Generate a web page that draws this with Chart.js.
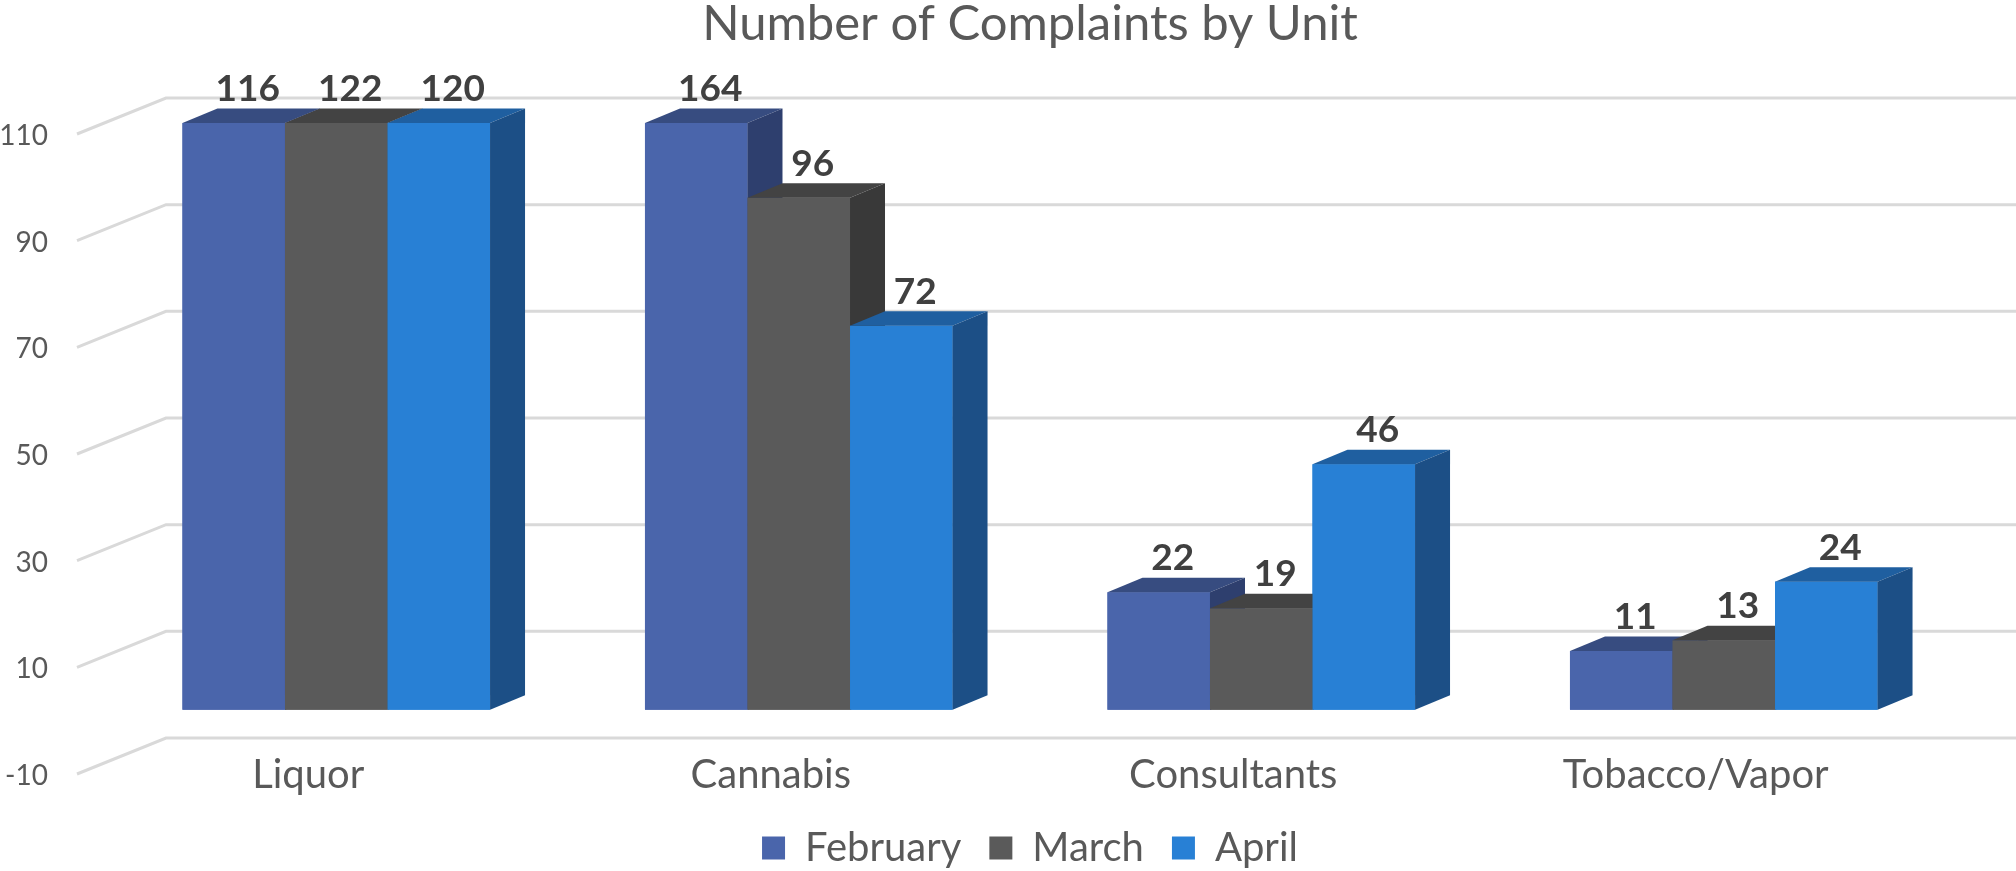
<!DOCTYPE html>
<html>
<head>
<meta charset="utf-8">
<title>Number of Complaints by Unit</title>
<script src="https://cdn.jsdelivr.net/npm/chart.js@4.4.1/dist/chart.umd.min.js"></script>
<style>
  html, body { margin: 0; padding: 0; background: #fff; }
  #wrap { width: 2016px; height: 871px; }
</style>
</head>
<body>
<div id="wrap"><canvas id="chart"></canvas></div>
<script>
/* ─── Data ─── */
const units    = ['Liquor', 'Cannabis', 'Consultants', 'Tobacco/Vapor'];
const february = [116, 164, 22, 11];
const march    = [122, 96, 19, 13];
const april    = [120, 72, 46, 24];
const yTicks   = [-10, 10, 30, 50, 70, 90, 110];

/* ─── 3D look ─── */
const SHADES = [
  { front: '#4A65AB', top: '#374C80', side: '#2E3F6E' },
  { front: '#5A5A5A', top: '#434343', side: '#393939' },
  { front: '#2880D5', top: '#1F5FA0', side: '#1C4F86' },
];
const DEPTH = { dx: 35, dy: 14.5 };   // bar depth
const WALL  = { dx: 61, dy: 25 };     // bar front -> back wall
const FLOOR = { dx: 89, dy: 36 };     // back wall -> front edge of floor
const TEXT  = '#595959';

Chart.defaults.font.family = "Lato, 'Open Sans', sans-serif";
Chart.defaults.color = TEXT;

function poly(ctx, pts) {
  ctx.beginPath();
  ctx.moveTo(pts[0][0], pts[0][1]);
  for (let k = 1; k < pts.length; k++) ctx.lineTo(pts[k][0], pts[k][1]);
  ctx.closePath();
  ctx.fill();
}

// gridlines on the back wall plus the slanted lines to the labels
const backWall = {
  id: 'backWall',
  beforeDatasetsDraw(chart) {
    const { ctx, chartArea, scales: { y } } = chart;
    const x0 = chartArea.left + WALL.dx;
    ctx.save();
    ctx.strokeStyle = '#D9D9D9';
    ctx.lineWidth = 3;
    yTicks.forEach(v => {
      const yb = y.getPixelForValue(v) - WALL.dy;
      ctx.beginPath();
      ctx.moveTo(x0 - FLOOR.dx, yb + FLOOR.dy);
      ctx.lineTo(x0, yb);
      ctx.lineTo(chart.width, yb);
      ctx.stroke();
    });
    ctx.restore();
  }
};

// repaint bars as blocks, left to right so later fronts hide earlier sides
const blocks = {
  id: 'blocks',
  afterDatasetsDraw(chart) {
    const { ctx, chartArea } = chart;
    const metas = chart.data.datasets.map((_, d) => chart.getDatasetMeta(d));
    ctx.save();
    units.forEach((_, i) => {
      metas.forEach((meta, d) => {
        const bar = meta.data[i];
        const c = SHADES[d];
        const l = bar.x - bar.width / 2, r = bar.x + bar.width / 2;
        const t = Math.max(bar.y, chartArea.top), b = bar.base;
        ctx.fillStyle = c.front;
        ctx.fillRect(l, t, r - l, b - t);
        ctx.fillStyle = c.top;
        poly(ctx, [[l, t], [r, t], [r + DEPTH.dx, t - DEPTH.dy], [l + DEPTH.dx, t - DEPTH.dy]]);
        ctx.fillStyle = c.side;
        poly(ctx, [[r, t], [r + DEPTH.dx, t - DEPTH.dy], [r + DEPTH.dx, b - DEPTH.dy], [r, b]]);
      });
    });

    // value labels
    ctx.font = "bold 37px Lato, 'Open Sans', sans-serif";
    ctx.fillStyle = '#404040';
    ctx.textAlign = 'center';
    ctx.textBaseline = 'middle';
    metas.forEach((meta, d) => {
      meta.data.forEach((bar, i) => {
        const t = Math.max(bar.y, chartArea.top);
        ctx.fillText(String(chart.data.datasets[d].data[i]), bar.x + 14, t - 34);
      });
    });
    ctx.restore();
  }
};

new Chart(document.getElementById('chart'), {
  type: 'bar',
  data: {
    labels: units,
    datasets: [
      { label: 'February', data: february, backgroundColor: SHADES[0].front },
      { label: 'March',    data: march,    backgroundColor: SHADES[1].front },
      { label: 'April',    data: april,    backgroundColor: SHADES[2].front },
    ]
  },
  options: {
    responsive: true,
    maintainAspectRatio: false,
    animation: false,
    clip: 0,
    categoryPercentage: 0.665,
    barPercentage: 1.0,
    borderWidth: 0,
    layout: { padding: { left: 0, right: 61, top: 0, bottom: -7 } },
    plugins: {
      title: {
        display: true,
        fullSize: false,
        text: 'Number of Complaints by Unit',
        color: TEXT,
        font: { size: 49, weight: 'normal', lineHeight: 1 },
        padding: { top: 0, bottom: 74 }
      },
      legend: {
        position: 'bottom',
        fullSize: false,
        labels: {
          boxWidth: 23,
          boxHeight: 23,
          padding: 28,
          color: TEXT,
          font: { size: 40 }
        }
      },
      tooltip: { enabled: false }
    },
    scales: {
      x: {
        offset: true,
        grid: { display: false, drawTicks: false },
        border: { display: false },
        ticks: {
          font: { size: 40 },
          color: TEXT,
          mirror: true,      // keeps the labels from being clipped at the axis top
          padding: -36,
          labelOffset: -28,
          maxRotation: 0,
          autoSkip: false
        },
        afterFit: s => { s.height = 37; }
      },
      y: {
        min: -10,
        max: 110,
        grid: { display: false, drawTicks: false },
        border: { display: false },
        afterBuildTicks: s => { s.ticks = yTicks.map(v => ({ value: v })); },
        ticks: {
          font: { size: 28 },
          color: TEXT,
          padding: 57,
          labelOffset: 13
        },
        afterFit: s => { s.width = 105; }
      }
    }
  },
  plugins: [backWall, blocks]
});
</script>
</body>
</html>
